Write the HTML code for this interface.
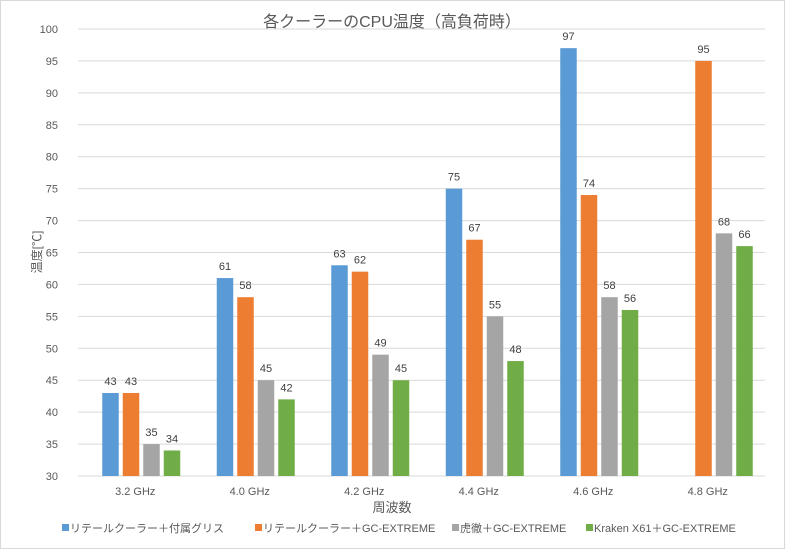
<!DOCTYPE html>
<html><head><meta charset="utf-8"><style>
body{margin:0;background:#fff;}
#wrap{position:relative;width:785px;height:549px;overflow:hidden;background:#fff;}
svg text{font-family:"Liberation Sans","Noto Sans CJK JP",sans-serif;}
</style></head><body>
<div id="wrap">
<svg id="chart" width="785" height="549">
<rect x="0.5" y="0.5" width="784" height="548" fill="#fff" stroke="#d9d9d9"/>
<text x="392" y="27" text-anchor="middle" font-size="16" fill="#595959">各クーラーのCPU温度（高負荷時）</text>
<text x="392" y="512" text-anchor="middle" font-size="13" fill="#595959">周波数</text>
<text transform="translate(41,252) rotate(-90)" text-anchor="middle" font-size="12" fill="#595959">温度[℃]</text>
<g id="grid"></g><g id="bars"></g><g id="labels"></g><g id="legend"></g>
</svg></div>
<script>
const categories=["3.2 GHz","4.0 GHz","4.2 GHz","4.4 GHz","4.6 GHz","4.8 GHz"];
const seriesNames=["リテールクーラー＋付属グリス","リテールクーラー＋GC-EXTREME","虎徹＋GC-EXTREME","Kraken X61＋GC-EXTREME"];
const s1=[43,61,63,75,97,null];
const s2=[43,58,62,67,74,95];
const s3=[35,45,49,55,58,68];
const s4=[34,42,45,48,56,66];
const yTicks=[30,35,40,45,50,55,60,65,70,75,80,85,90,95,100];
const colors=["#5b9bd5","#ed7d31","#a5a5a5","#70ad47"];
const series=[s1,s2,s3,s4];
const NS="http://www.w3.org/2000/svg";
const L=78,R=765,T=29,B=476,ymin=30,ymax=100;
const y=v=>B-(v-ymin)/(ymax-ymin)*(B-T);
const cw=(R-L)/categories.length;
const xc=i=>L+cw*(i+0.5)+6;
function mk(t,a,p){const e=document.createElementNS(NS,t);for(const k in a)e.setAttribute(k,a[k]);p.appendChild(e);return e;}
const grid=document.getElementById('grid'),bars=document.getElementById('bars'),labels=document.getElementById('labels'),legend=document.getElementById('legend');
yTicks.forEach(v=>{
 const l=mk('line',{x1:L,x2:R,y1:y(v),y2:y(v),stroke:'#d9d9d9','stroke-width':1},grid);
 
 
 const t=mk('text',{x:L-20,y:y(v)+4,'text-anchor':'end','font-size':11,fill:'#595959'},grid);
 t.textContent=v;
 
 
});
categories.forEach((c,i)=>{
 const t=mk('text',{x:xc(i)-6,y:495,'text-anchor':'middle','font-size':11,fill:'#595959'},grid);
 t.textContent=c;
 
 
});
const bw=16.5,pitch=20.5;
series.forEach((s,si)=>{
 s.forEach((v,i)=>{
  if(v==null)return;
  const x=xc(i)+(si-1.5)*pitch-bw/2;
  const r=mk('rect',{x:x,y:y(v),width:bw,height:B-y(v),fill:colors[si]},bars);
  
  
  const t=mk('text',{x:x+bw/2,y:y(v)-8,'text-anchor':'middle','font-size':11,fill:'#404040'},labels);
  t.textContent=v;
  
  
 });
});
const lx=[62,255,452,586];
seriesNames.forEach((n,i)=>{
 const r=mk('rect',{x:lx[i],y:524,width:7,height:7,fill:colors[i]},legend);
 
 
 const t=mk('text',{x:lx[i]+8,y:532,'font-size':11,fill:'#595959'},legend);
 t.textContent=n;
 
 
});
</script>
</body></html>
